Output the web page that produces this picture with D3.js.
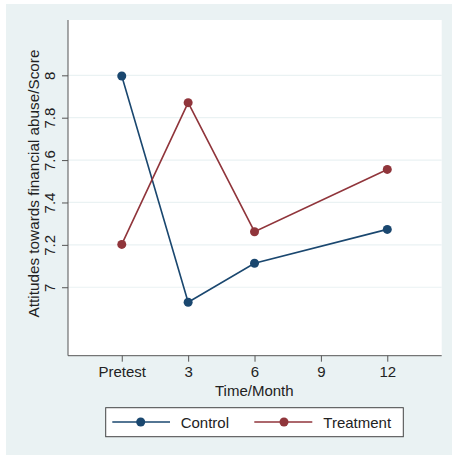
<!DOCTYPE html>
<html><head><meta charset="utf-8">
<script src="https://cdn.jsdelivr.net/npm/d3@7"></script>
<style>html,body{margin:0;padding:0;background:#fff;}svg{display:block;}</style>
</head><body>
<svg id="chart" width="452" height="455"></svg>
<script>
const months = [0, 3, 6, 12];
const xTickValues = [0, 3, 6, 9, 12];
const xTickLabels = ["Pretest", "3", "6", "9", "12"];
const yTickValues = [7, 7.2, 7.4, 7.6, 7.8, 8];
const control = [7.997, 6.929, 7.113, 7.273];
const treatment = [7.202, 7.871, 7.262, 7.556];
const seriesNames = ["Control", "Treatment"];
const seriesColors = ["#1a476f", "#90353b"];

const svg = d3.select("#chart");
const font = "'Liberation Sans', Arial, sans-serif";

// outer background
svg.append("rect").attr("x", 6).attr("y", 4).attr("width", 446).attr("height", 451).attr("fill", "#eaf2f3");

const L = 68, R = 441.7, T = 20, B = 355.7;
svg.append("rect").attr("x", L).attr("y", T).attr("width", R - L).attr("height", B - T).attr("fill", "#fff");

const x = d3.scaleLinear().domain([-2.43, 14.46]).range([L, R]);
const y = d3.scaleLinear().domain([6.677, 8.261]).range([B, T]);

// gridlines
svg.append("g").selectAll("line").data(yTickValues).join("line")
  .attr("x1", L).attr("x2", R).attr("y1", d => y(d)).attr("y2", d => y(d))
  .attr("stroke", "#eaf2f3").attr("stroke-width", 1.2);

// y axis
const yAxis = svg.append("g").attr("transform", `translate(${L},0)`)
  .call(d3.axisLeft(y).tickValues(yTickValues).tickSize(6).tickSizeOuter(0).tickFormat(d3.format("~g")));
yAxis.select(".domain").attr("stroke", "#555").attr("d", `M0,${T}V${B}`);
yAxis.selectAll(".tick line").attr("stroke", "#555");
yAxis.selectAll(".tick text").attr("font-family", font).attr("font-size", 15).attr("fill", "#222")
  .attr("x", 0).attr("dy", 0).attr("text-anchor", "middle")
  .attr("transform", "translate(-13,0) rotate(-90)");

// x axis
const xAxis = svg.append("g").attr("transform", `translate(0,${B})`)
  .call(d3.axisBottom(x).tickValues(xTickValues).tickSize(6).tickSizeOuter(0).tickFormat((d, i) => xTickLabels[i]));
xAxis.select(".domain").attr("stroke", "#555").attr("d", `M${L},0H${R}`);
xAxis.selectAll(".tick line").attr("stroke", "#555");
xAxis.selectAll(".tick text").attr("font-family", font).attr("font-size", 15).attr("fill", "#222").attr("dy", "0.95em").attr("y", 7);

// axis titles
svg.append("text").attr("x", 254.3).attr("y", 396).attr("text-anchor", "middle")
  .attr("font-family", font).attr("font-size", 15).attr("fill", "#222").text("Time/Month");
svg.append("text").attr("transform", "translate(39,183.5) rotate(-90)").attr("text-anchor", "middle")
  .attr("font-family", font).attr("font-size", 15.3).attr("fill", "#222").text("Attitudes towards financial abuse/Score");

// series
const line = d3.line().x((d, i) => x(months[i])).y(d => y(d));
[control, treatment].forEach((s, k) => {
  svg.append("path").datum(s).attr("d", line).attr("fill", "none")
    .attr("stroke", seriesColors[k]).attr("stroke-width", 1.6);
  svg.append("g").selectAll("circle").data(s).join("circle")
    .attr("cx", (d, i) => x(months[i])).attr("cy", d => y(d)).attr("r", 4.5)
    .attr("fill", seriesColors[k]);
});

// legend
svg.append("rect").attr("x", 105.7).attr("y", 407.7).attr("width", 297.6).attr("height", 29)
  .attr("fill", "#fff").attr("stroke", "#444").attr("stroke-width", 1);
const legendItems = [
  {x1: 112.3, x2: 170, cx: 140.7, tx: 180.7},
  {x1: 254.3, x2: 312.3, cx: 284, tx: 323.3}
];
legendItems.forEach((it, k) => {
  svg.append("line").attr("x1", it.x1).attr("x2", it.x2).attr("y1", 422).attr("y2", 422)
    .attr("stroke", seriesColors[k]).attr("stroke-width", 1.6);
  svg.append("circle").attr("cx", it.cx).attr("cy", 422).attr("r", 4.5).attr("fill", seriesColors[k]);
  svg.append("text").attr("x", it.tx).attr("y", 427.5).attr("font-family", font).attr("font-size", 15)
    .attr("fill", "#222").text(seriesNames[k]);
});
</script>
</body></html>
